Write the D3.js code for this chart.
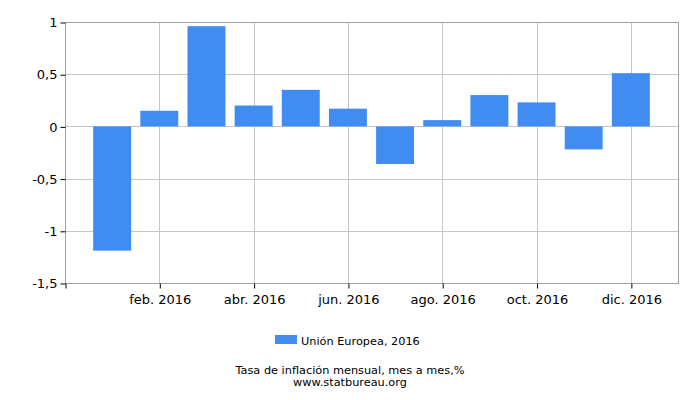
<!DOCTYPE html>
<html>
<head>
<meta charset="utf-8">
<script src="https://cdn.jsdelivr.net/npm/d3@7"></script>
<style>
  body { margin: 0; background: #fff; }
  text { font-family: "DejaVu Sans", sans-serif; }
</style>
</head>
<body>
<div id="okvir"></div>
<script>
// podaci iz slike
const mjeseci = [0, 1, 2, 3, 4, 5, 6, 7, 8, 9, 10, 11]
const vrijednosti = [-1.19, 0.15, 0.96, 0.2, 0.35, 0.17, -0.36, 0.06, 0.3, 0.23, -0.22, 0.51]
const xOznake = ["feb. 2016", "abr. 2016", "jun. 2016", "ago. 2016", "oct. 2016", "dic. 2016"]
const xOznakePoz = [1, 3, 5, 7, 9, 11]
const yTicks = [1, 0.5, 0, -0.5, -1, -1.5]
const legenda = "Unión Europea, 2016"
const naslov = "Tasa de inflación mensual, mes a mes,%"
const izvor = "www.statbureau.org"

function crtaj() {
  const dim = {
    sirina: 700,
    visina: 400,
    margine: { top: 22, right: 22, bottom: 117, left: 65 }
  }
  dim.grSirina = dim.sirina - dim.margine.left - dim.margine.right
  dim.grVisina = dim.visina - dim.margine.top - dim.margine.bottom

  const okvir = d3.select("#okvir")
    .append("svg")
    .attr("width", dim.sirina)
    .attr("height", dim.visina)

  const granice = okvir.append("g")
    .attr("transform", `translate(${dim.margine.left},${dim.margine.top})`)

  const xSkala = d3.scaleLinear()
    .domain([-1, 12])
    .range([0, dim.grSirina])

  const ySkala = d3.scaleLinear()
    .domain([-1.5, 1])
    .range([dim.grVisina, 0])

  // mreza
  granice.append("g")
    .selectAll("line")
    .data(yTicks)
    .join("line")
      .attr("x1", 0)
      .attr("x2", dim.grSirina)
      .attr("y1", d => Math.round(ySkala(d)) + 0.5)
      .attr("y2", d => Math.round(ySkala(d)) + 0.5)
      .attr("stroke", "#c6c6c6")

  granice.append("g")
    .selectAll("line")
    .data(xOznakePoz)
    .join("line")
      .attr("x1", d => Math.round(xSkala(d)) + 0.5)
      .attr("x2", d => Math.round(xSkala(d)) + 0.5)
      .attr("y1", 0)
      .attr("y2", dim.grVisina)
      .attr("stroke", "#c6c6c6")

  // stupci
  const bw = xSkala(0.805) - xSkala(0)
  granice.append("g")
    .selectAll("rect")
    .data(mjeseci)
    .join("rect")
      .attr("x", d => xSkala(d) - bw / 2)
      .attr("width", bw)
      .attr("y", d => ySkala(Math.max(0, vrijednosti[d])))
      .attr("height", d => Math.abs(ySkala(vrijednosti[d]) - ySkala(0)))
      .attr("fill", "#418cf0")

  // okvir
  granice.append("rect")
    .attr("x", 0.5)
    .attr("y", 0.5)
    .attr("width", dim.grSirina)
    .attr("height", dim.grVisina)
    .attr("fill", "none")
    .attr("stroke", "#a0a0a0")

  // osi
  const xOsGen = d3.axisBottom(xSkala)
    .tickValues([-1, ...xOznakePoz])
    .tickFormat(d => d < 0 ? "" : xOznake[xOznakePoz.indexOf(d)])
    .tickSize(5)
    .tickPadding(6)
  const xOs = granice.append("g")
    .attr("transform", `translate(0.5,${dim.grVisina + 0.5})`)
    .call(xOsGen)
  xOs.select(".domain").remove()
  xOs.selectAll("text").attr("font-size", 13).attr("fill", "#000").style("font-family", "DejaVu Sans")
  xOs.selectAll("line").attr("stroke", "#000")

  const yOsGen = d3.axisLeft(ySkala)
    .tickValues(yTicks)
    .tickFormat(d => String(d).replace(".", ","))
    .tickSize(5)
    .tickPadding(3)
  const yOs = granice.append("g")
    .attr("transform", "translate(0.5,0.5)")
    .call(yOsGen)
  yOs.select(".domain").remove()
  yOs.selectAll("text").attr("font-size", 13).attr("fill", "#000").style("font-family", "DejaVu Sans")
  yOs.selectAll("line").attr("stroke", "#000")

  // legenda
  const leg = okvir.append("g").attr("transform", "translate(275,335)")
  leg.append("rect")
    .attr("width", 22)
    .attr("height", 9)
    .attr("fill", "#418cf0")
  leg.append("text")
    .attr("x", 26)
    .attr("y", 9.5)
    .attr("font-size", 11.3)
    .text(legenda)

  okvir.append("text")
    .attr("x", 350)
    .attr("y", 373.5)
    .attr("text-anchor", "middle")
    .attr("font-size", 11.3)
    .text(naslov)
  okvir.append("text")
    .attr("x", 350)
    .attr("y", 386)
    .attr("text-anchor", "middle")
    .attr("font-size", 11.3)
    .text(izvor)
}
crtaj()
</script>
</body>
</html>
